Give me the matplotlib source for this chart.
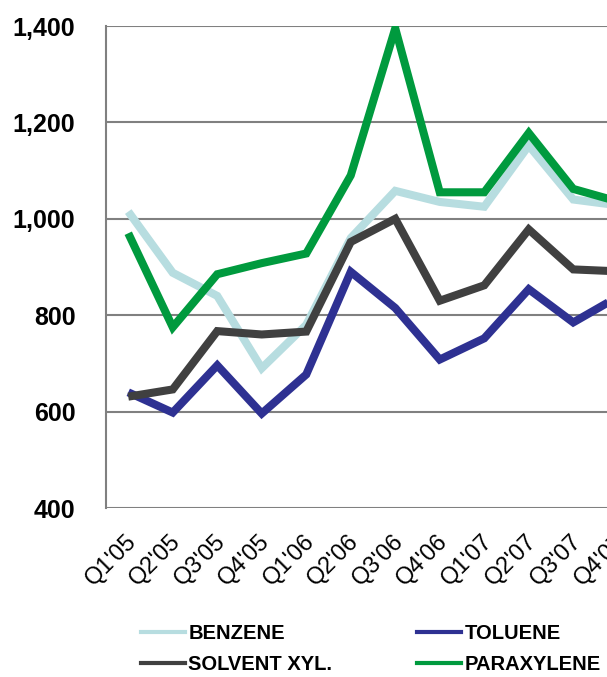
import matplotlib.pyplot as plt
import matplotlib.transforms as mtransforms
from matplotlib.lines import Line2D

# quarterly prices
quarters = ["Q1'05", "Q2'05", "Q3'05", "Q4'05", "Q1'06", "Q2'06",
            "Q3'06", "Q4'06", "Q1'07", "Q2'07", "Q3'07", "Q4'07"]
benzene = [1015, 888, 840, 690, 780, 960, 1058, 1035, 1025, 1152, 1040, 1028]
toluene = [640, 598, 696, 596, 677, 890, 815, 708, 752, 854, 785, 838]
solvent_xyl = [631, 646, 767, 760, 766, 952, 1000, 830, 862, 978, 895, 891]
paraxylene = [970, 775, 885, 908, 928, 1090, 1395, 1055, 1055, 1178, 1062, 1036]

COLORS = {'BENZENE': '#B7DDE0', 'TOLUENE': '#2E3192',
          'SOLVENT XYL.': '#404040', 'PARAXYLENE': '#009A3E'}

plt.rcParams['font.family'] = ['Liberation Sans', 'DejaVu Sans']

fig = plt.figure(figsize=(6.07, 6.77), dpi=100)
W, H = 607, 677
# plot area runs past the right edge of the picture, as in the original
ax = fig.add_axes([106 / W, 1 - 508 / H, 534 / W, 482 / H])

x = list(range(len(quarters)))
series = [('BENZENE', benzene), ('TOLUENE', toluene),
          ('SOLVENT XYL.', solvent_xyl), ('PARAXYLENE', paraxylene)]
for name, vals in series:
    ax.plot(x, vals, color=COLORS[name], lw=5.8, solid_joinstyle='miter',
            solid_capstyle='butt', zorder=3)

ax.set_xlim(-0.5, len(quarters) - 0.5)
ax.set_ylim(400, 1400)
ax.set_yticks([400, 600, 800, 1000, 1200, 1400])
ax.set_yticklabels(['{:,}'.format(v) for v in [400, 600, 800, 1000, 1200, 1400]],
                   fontsize=18, fontweight='bold')
ax.grid(axis='y', color='#808080', lw=1.5, zorder=1)
ax.tick_params(axis='y', length=0, pad=22)
ax.tick_params(axis='x', length=0, pad=16)
ax.set_xticks(x)
ax.set_xticklabels(quarters, rotation=45, ha='right', va='top',
                   rotation_mode='anchor', fontsize=17)
shift = mtransforms.ScaledTranslation(-3 / 100, 0, fig.dpi_scale_trans)
for lab in ax.get_xticklabels():
    lab.set_transform(lab.get_transform() + shift)
for s in ['top', 'right', 'bottom']:
    ax.spines[s].set_visible(False)
ax.spines['left'].set_color('#808080')
ax.spines['left'].set_linewidth(1.5)

# legend: row-wise order benzene / toluene, solvent / paraxylene
order = ['BENZENE', 'SOLVENT XYL.', 'TOLUENE', 'PARAXYLENE']
handles = [Line2D([0], [0], color=COLORS[n], lw=3) for n in order]
fig.legend(handles, order, loc='upper left', bbox_to_anchor=(131 / W, 1 - 614 / H),
           ncol=2, frameon=False, borderpad=0, handlelength=2.2,
           handletextpad=0.15, columnspacing=4.2, labelspacing=0.6,
           prop={'size': 14.5, 'weight': 'bold'})

fig.savefig('out.png', dpi=100)
